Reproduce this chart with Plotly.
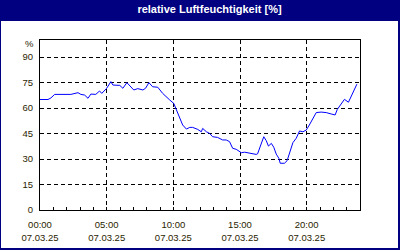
import plotly.graph_objects as go

DATE = "2025-03-07"
times = ["00:00", "00:36", "00:49", "01:06", "02:19", "02:33", "02:51", "03:04", "03:21", "03:36",
         "03:49", "04:11", "04:28", "04:38", "05:00", "05:19", "05:28", "05:59", "06:13", "06:31",
         "06:52", "07:02", "07:20", "07:43", "07:55", "08:10", "08:27", "08:50", "09:12", "09:29",
         "09:44", "10:02", "10:14", "10:29", "10:42", "10:59", "11:14", "11:27", "11:50", "12:06",
         "12:12", "12:29", "12:43", "12:57", "13:19", "13:42", "13:58", "14:13", "14:27", "14:43",
         "15:06", "15:21", "15:43", "16:13", "16:19", "16:36", "16:47", "16:58", "17:08", "17:21",
         "17:32", "17:43", "17:55", "18:01", "18:20", "18:32", "18:43", "18:58", "19:13", "19:28",
         "19:43", "19:58", "20:12", "20:27", "20:43", "21:05", "21:28", "21:50", "22:08", "22:18",
         "22:35", "22:50", "23:08", "23:20", "23:35", "23:46"]
humidity = [65.0, 65.0, 65.9, 68.0, 68.0, 68.4, 69.0, 68.0, 67.6, 65.7,
            68.2, 68.0, 70.0, 68.6, 71.6, 75.5, 73.5, 73.3, 71.6, 74.9,
            72.2, 70.6, 71.4, 70.6, 71.6, 74.9, 72.5, 72.2, 68.6, 66.3,
            64.7, 62.7, 59.2, 53.9, 50.0, 47.6, 48.6, 48.6, 47.4, 46.0,
            48.0, 46.0, 45.1, 43.1, 42.7, 41.2, 41.2, 40.2, 36.3, 35.7,
            33.7, 34.0, 33.3, 32.7, 33.0, 39.2, 43.1, 40.8, 37.6, 39.2,
            36.9, 32.9, 30.4, 27.5, 27.5, 29.0, 33.3, 39.6, 42.2, 46.5,
            46.0, 47.0, 50.0, 53.9, 57.3, 57.6, 57.3, 56.5, 55.9, 59.2,
            62.4, 65.1, 63.4, 66.7, 70.6, 74.0]
y_ticks = [0, 15, 30, 45, 60, 75, 90]
title_text = "relative Luftfeuchtigkeit [%]"
unit_label = "%"

x = [f"{DATE} {t}" for t in times]
x_range = [f"{DATE} 00:00", "2025-03-08 00:00"]

W, H = 400, 250
L, R, T, B = 40, 40, 40, 40
pw, ph = W - L - R, H - T - B

def px(xp):
    return (xp - L) / pw

def py(yp):
    return (H - B - yp) / ph

FONT = "Liberation Sans"
TXT = "#2a1d00"

fig = go.Figure()
fig.add_trace(go.Scatter(x=x, y=humidity, mode="lines",
                         line=dict(color="#0000ff", width=1), hoverinfo="skip"))
fig.add_trace(go.Scatter(x=[x_range[0]], y=[None], xaxis="x2", mode="lines",
                         showlegend=False, hoverinfo="skip"))

common_x = dict(type="date", range=x_range, tick0=x_range[0], dtick=5 * 3600 * 1000,
                automargin=False)
fig.update_layout(
    width=W, height=H,
    margin=dict(l=L, r=R, t=T, b=B, autoexpand=False),
    paper_bgcolor="white", plot_bgcolor="white",
    showlegend=False,
    title=dict(text="<b>" + title_text + "</b>", x=px(209.5), xref="paper", xanchor="center",
               y=1 - 9.5 / H, yref="container", yanchor="middle",
               font=dict(family=FONT, size=11, color="white")),
    font=dict(family=FONT, size=9.5, color=TXT),
    xaxis=dict(**common_x, tickformat="%H:%M",
               showgrid=True, gridcolor="black", griddash="4px,3px", gridwidth=1,
               showline=True, linecolor="black", linewidth=1, mirror=True,
               ticks="inside", ticklen=3, tickcolor="black",
               minor=dict(dtick=3600 * 1000, ticks="inside", ticklen=3, tickcolor="black", showgrid=False),
               ticklabelstandoff=6, zeroline=False),
    xaxis2=dict(**common_x, tickformat="%d.%m.%y", overlaying="x", side="bottom", anchor="y",
                showgrid=False, showline=False, ticks="", ticklabelstandoff=20),
    yaxis=dict(range=[0, 100], tickvals=y_ticks, automargin=False,
               showgrid=True, gridcolor="black", griddash="4px,3px", gridwidth=1,
               showline=True, linecolor="black", linewidth=1, mirror=True,
               ticks="", ticklabelstandoff=4, zeroline=False),
    shapes=[
        dict(type="rect", xref="paper", yref="paper", x0=px(-1), x1=px(401),
             y0=py(21), y1=py(-1), fillcolor="#000080", line=dict(width=0), layer="below"),
        dict(type="rect", xref="paper", yref="paper", x0=px(0), x1=px(399),
             y0=py(249), y1=py(0), fillcolor="rgba(0,0,0,0)",
             line=dict(color="#000080", width=2), layer="above"),
    ],
    annotations=[
        dict(text=unit_label, xref="paper", yref="paper", x=0, y=1, xanchor="right",
             yanchor="top", xshift=-4, yshift=4, showarrow=False,
             font=dict(family=FONT, size=9.5, color=TXT)),
    ],
)

fig.write_html("out.html")
